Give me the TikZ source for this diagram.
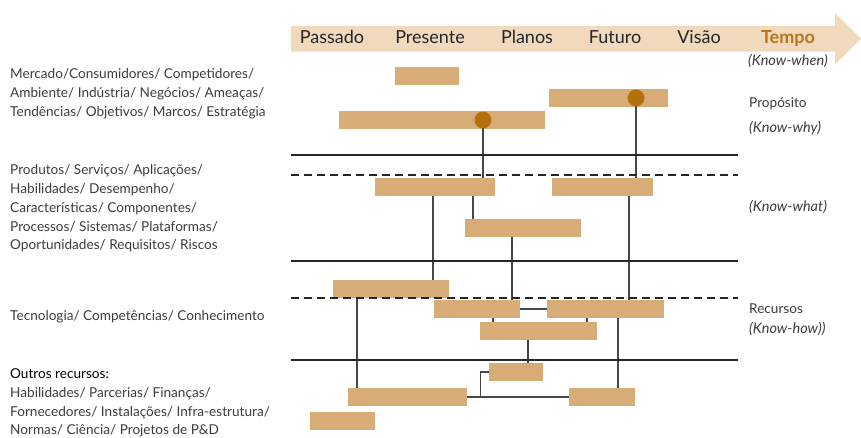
\documentclass[tikz,border=0pt]{standalone}
\usepackage{fontspec}
\setmainfont{Lato}
\usetikzlibrary{calc, positioning}

\definecolor{barcol}{HTML}{D8AC76}
\definecolor{bandcol}{HTML}{F0D9BC}
\definecolor{dotcol}{HTML}{B4700F}
\definecolor{tempocol}{HTML}{B8761C}
\definecolor{txtcol}{HTML}{3C3C3C}
\definecolor{linecol}{HTML}{262626}

\begin{document}
\begin{tikzpicture}[x=1pt, y=-1pt,
  bar/.style={fill=barcol, inner sep=0, minimum height=18},
  dot/.style={circle, fill=dotcol, inner sep=0, minimum size=17},
  sep/.style={line width=1.8, draw=linecol},
  link/.style={line width=1.2, draw=linecol!85},
  era/.style={font=\fontsize{18}{20}\selectfont, text=black!85, anchor=base, inner sep=0},
  know/.style={font=\fontsize{14.5}{16}\selectfont\itshape, text=txtcol, inner sep=0},
  side/.style={font=\fontsize{13.6}{18.8}\selectfont, text=txtcol, align=left, anchor=north west, inner sep=0}]
  \useasboundingbox (0,0) rectangle (861,438);

  % time arrow
  \fill [bandcol] (291,26) -- (835,26) -- (835,13) -- (861,38.7) -- (835,64.4) -- (835,51.7) -- (291,51.7) -- cycle;
  \node (passado) at (332,44) [era] {Passado};
  \node (presente) at (430,44) [era] {Presente};
  \node (planos) at (527,44) [era] {Planos};
  \node (futuro) at (615,44) [era] {Futuro};
  \node (visao) at (699,44) [era] {Visão};
  \node (tempo) at (788,44) [era, text=tempocol, font=\fontsize{18}{20}\selectfont\bfseries] {Tempo};
  \node (when) at (788,61) [know] {(Know-when)};

  % left labels
  \node (mercado) at (10,68.5) [side] {Mercado/Consumidores/ Competidores/\\Ambiente/ Indústria/ Negócios/ Ameaças/\\Tendências/ Objetivos/ Marcos/ Estratégia};
  \node (produtos) at (10,164.5) [side] {Produtos/ Serviços/ Aplicações/\\Habilidades/ Desempenho/\\Características/ Componentes/\\Processos/ Sistemas/ Plataformas/\\Oportunidades/ Requisitos/ Riscos};
  \node (tecnologia) at (10,310.5) [side] {Tecnologia/ Competências/ Conhecimento};
  \node (outros) at (10,368.5) [side] {{\color{black}Outros recursos:}\\Habilidades/ Parcerias/ Finanças/\\Fornecedores/ Instalações/ Infra-estrutura/\\Normas/ Ciência/ Projetos de P\&D};

  % right labels
  \node (proposito) at (749,104) [anchor=west, inner sep=0, font=\fontsize{13.6}{15}\selectfont, text=txtcol] {Propósito};
  \node (why) at (749,128) [know, anchor=west] {(Know-why)};
  \node (what) at (749,207) [know, anchor=west] {(Know-what)};
  \node (recursos) at (749,309) [anchor=west, inner sep=0, font=\fontsize{13.6}{15}\selectfont, text=txtcol] {Recursos};
  \node (how) at (749,329) [know, anchor=west] {(Know-how))};

  % bars
  \node (p1) at (427,76) [bar, minimum width=64] {};
  \node (p2) at (608.5,98) [bar, minimum width=119] {};
  \node (p3) at (442,120) [bar, minimum width=206] {};
  \node (w1) at (435,187) [bar, minimum width=120] {};
  \node (w2) at (602.5,187) [bar, minimum width=101] {};
  \node (w3) at (523,228) [bar, minimum width=116] {};
  \node (h1) at (391,289) [bar, minimum width=116] {};
  \node (h2) at (477,309) [bar, minimum width=86] {};
  \node (h3) at (605.5,309) [bar, minimum width=117] {};
  \node (h4) at (538.5,331) [bar, minimum width=117] {};
  \node (r1) at (516,372) [bar, minimum width=54] {};
  \node (r2) at (407.5,397) [bar, minimum width=119] {};
  \node (r3) at (602,397) [bar, minimum width=66] {};
  \node (r4) at (342.5,421) [bar, minimum width=65] {};

  % links
  \coordinate (d1) at (483,120);
  \coordinate (d2) at (636,98);
  \draw [link] (d1) -- (d1 |- w1.north);
  \draw [link] (d2) -- (d2 |- w2.north);
  \draw [link] ([xshift=-2]w1.south) -- ([xshift=-2]w1.south |- h1.north);
  \draw [link] ([xshift=38]w1.south) -- ([xshift=38]w1.south |- w3.north);
  \draw [link] ([xshift=-11]w3.south) -- ([xshift=-11]w3.south |- h2.north);
  \draw [link] ([xshift=26.5]w2.south) -- ([xshift=26.5]w2.south |- h3.north);
  \draw [link] (h2.east) -- (h3.west);
  \draw [link] ([xshift=16]h2.south) -- ([xshift=16]h2.south |- h4.north);
  \draw [link] ([xshift=-18.5]h3.south) -- ([xshift=-18.5]h3.south |- h4.north);
  \draw [link] ([xshift=-34]h1.south) -- ([xshift=-34]h1.south |- r2.north);
  \draw [link] ([xshift=-10.5]h4.south) -- ([xshift=-10.5]h4.south |- r1.north);
  \draw [link] ([xshift=12.5]h3.south) -- ([xshift=12.5]h3.south |- r3.north);
  \draw [link] (r2.east) -- (r3.west);
  \draw [link] (r1.west) -| ([xshift=13]r2.east);
  \node (dot1) at (d1) [dot] {};
  \node (dot2) at (d2) [dot] {};

  % layer lines
  \draw [sep] (291,155) -- (738,155);
  \draw [sep, dash pattern=on 8 off 5] (291,175) -- (738,175);
  \draw [sep] (291,261) -- (738,261);
  \draw [sep, dash pattern=on 8 off 5] (291,298) -- (738,298);
  \draw [sep] (291,360) -- (738,360);
\end{tikzpicture}
\end{document}
